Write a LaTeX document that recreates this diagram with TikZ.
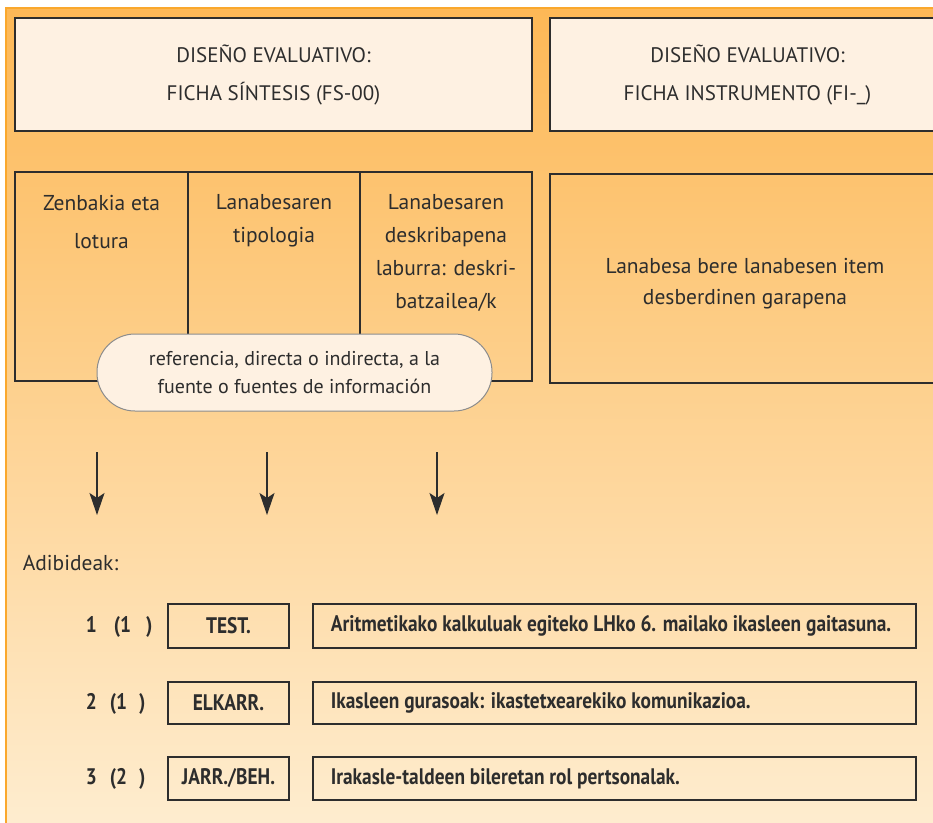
\documentclass[tikz,border=0pt]{standalone}
\usepackage{fontspec}
\setmainfont{PT Sans}
\newfontfamily\rowfont[FakeStretch=0.86]{PT Sans}
\usetikzlibrary{positioning,arrows.meta}

\definecolor{panelTop}{RGB}{253,184,86}
\definecolor{panelBot}{RGB}{254,237,208}
\definecolor{panelLine}{RGB}{250,168,45}
\definecolor{cream}{RGB}{254,241,226}
\definecolor{ink}{RGB}{45,45,45}

\begin{document}
\begin{tikzpicture}[x=1pt, y=-1pt, line width=1.6pt,
	box/.style = {rectangle, draw=ink, inner sep=0pt},
	headtext/.style = {align=center, text=ink, font=\fontsize{21}{38}\selectfont},
	celltext/.style = {align=center, text=ink, inner sep=0pt, anchor=north},
	pill/.style = {rectangle, rounded corners=38pt, draw=black!45, line width=1pt, fill=cream,
		align=center, text=ink, font=\fontsize{20}{28}\selectfont},
	arr/.style = {line width=1.2pt, draw=ink, -{Stealth[length=22pt, width=15pt, inset=5pt]}},
	rowtext/.style = {text=ink, inner sep=0pt, font=\rowfont\bfseries\fontsize{22.5}{24}\selectfont}]
	\useasboundingbox (0,0) rectangle (933,822);
	\clip (0,0) rectangle (933,822);
	% background panel
	\shade[top color=panelTop, bottom color=panelBot] (6,8) rectangle (945,830);
	\draw[panelLine, line width=2pt] (6,830) -- (6,8) -- (945,8);
	% heading boxes
	\node (FS) at (273.5, 74.5)	[box, fill=cream, minimum width=517, minimum height=113, headtext]	{DISEÑO EVALUATIVO:\\FICHA SÍNTESIS (FS-00)};
	\node (FI) at (747.5, 74.5)	[box, fill=cream, minimum width=395, minimum height=113, headtext]	{DISEÑO EVALUATIVO:\\FICHA INSTRUMENTO (FI-\_)};
	% cells
	\node (zen) at (101.5, 276.5)	[box, minimum width=173, minimum height=209]	{};
	\node (tip) at (274, 276.5)	[box, minimum width=172, minimum height=209]	{};
	\node (desk) at (446, 276.5)	[box, minimum width=172, minimum height=209]	{};
	\node (gar) at (747.5, 278.5)	[box, minimum width=395, minimum height=209]	{};
	\node (zent) at (101.5, 194)	[celltext, font=\fontsize{21.5}{38}\selectfont]	{Zenbakia eta\\lotura};
	\node (tipt) at (274, 194)	[celltext, font=\fontsize{21.5}{33}\selectfont]	{Lanabesaren\\tipologia};
	\node (deskt) at (446, 194)	[celltext, font=\fontsize{21.5}{33}\selectfont]	{Lanabesaren\\deskribapena\\laburra: deskri-\\batzailea/k};
	\node (gart) at (745, 284)	[headtext, font=\fontsize{21.5}{31}\selectfont]	{Lanabesa bere lanabesen item\\desberdinen garapena};
	\node (ref) at (294.5, 372.5)	[pill, minimum width=395, minimum height=77]	{referencia, directa o indirecta, a la\\fuente o fuentes de información};
	% arrows
	\coordinate (a1s) at (97, 452);	\coordinate (a1e) at (97, 515);
	\coordinate (a2s) at (267, 452);	\coordinate (a2e) at (267, 515);
	\coordinate (a3s) at (437, 452);	\coordinate (a3e) at (437, 515);
	\draw[arr] (a1s) -- (a1e);
	\draw[arr] (a2s) -- (a2e);
	\draw[arr] (a3s) -- (a3e);
	\node (adib) at (22, 563)	[anchor=west, inner sep=0pt, text=ink, font=\fontsize{21.5}{24}\selectfont]	{Adibideak:};
	% examples
	\node (n1) at (85, 632)	[rowtext, anchor=base west]	{1\hspace{17pt}(1\hspace{15pt})};
	\node (n2) at (85, 709)	[rowtext, anchor=base west]	{2\hspace{13pt}(1\hspace{12pt})};
	\node (n3) at (85, 784.5)	[rowtext, anchor=base west]	{3\hspace{13pt}(2\hspace{12pt})};
	\node (k1) at (228.5, 626)	[box, minimum width=121, minimum height=44, rowtext]	{TEST.};
	\node (k2) at (228.5, 703)	[box, minimum width=121, minimum height=42, rowtext]	{ELKARR.};
	\node (k3) at (228.5, 778.5)	[box, minimum width=121, minimum height=43, rowtext]	{JARR./BEH.};
	\node (d1) at (614.5, 626)	[box, minimum width=603, minimum height=44]	{};
	\node (d2) at (614.5, 703)	[box, minimum width=603, minimum height=42]	{};
	\node (d3) at (614.5, 778.5)	[box, minimum width=603, minimum height=43]	{};
	\node (d1t) at (330, 626)	[rowtext, anchor=west]	{Aritmetikako kalkuluak egiteko LHko 6. mailako ikasleen gaitasuna.};
	\node (d2t) at (330, 703)	[rowtext, anchor=west]	{Ikasleen gurasoak: ikastetxearekiko komunikazioa.};
	\node (d3t) at (330, 778.5)	[rowtext, anchor=west]	{Irakasle-taldeen bileretan rol pertsonalak.};
\end{tikzpicture}
\end{document}
